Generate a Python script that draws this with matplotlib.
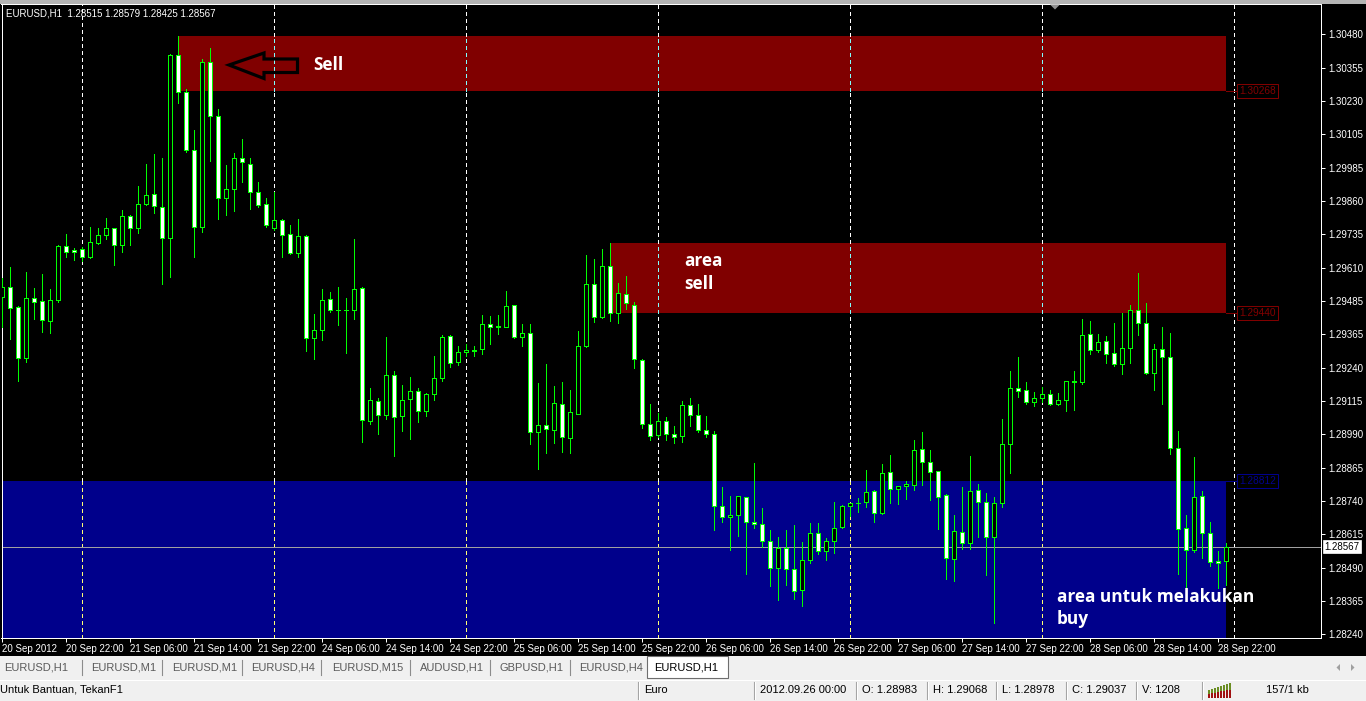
import matplotlib
matplotlib.use('Agg')
import matplotlib.pyplot as plt
from matplotlib.patches import Rectangle, Polygon
import numpy as np

plt.rcParams['font.family'] = ['Liberation Sans', 'DejaVu Sans']

# ---------------- data ----------------
symbol = 'EURUSD,H1'
opens = [1.29500, 1.29538, 1.29461, 1.29270, 1.29494, 1.29483, 1.29408, 1.29487, 1.29688, 1.29674,
         1.29677, 1.29647, 1.29702, 1.29730, 1.29756, 1.29692, 1.29800, 1.29756, 1.29845, 1.29883,
         1.29834, 1.29718, 1.30402, 1.30263, 1.30047, 1.29762, 1.30375, 1.30176, 1.29868, 1.29904,
         1.30017, 1.29997, 1.29890, 1.29845, 1.29756, 1.29786, 1.29733, 1.29662, 1.29726, 1.29345,
         1.29375, 1.29491, 1.29451, 1.29451, 1.29450, 1.29532, 1.29035, 1.29110, 1.29058, 1.29207,
         1.29054, 1.29117, 1.29147, 1.29073, 1.29136, 1.29196, 1.29353, 1.29255, 1.29293, 1.29300,
         1.29304, 1.29397, 1.29390, 1.29386, 1.29468, 1.29349, 1.29364, 1.28994, 1.29020, 1.29002,
         1.29099, 1.28972, 1.29064, 1.29317, 1.29547, 1.29426, 1.29614, 1.29438, 1.29509, 1.29468,
         1.29263, 1.29024, 1.28983, 1.29035, 1.28987, 1.28979, 1.29095, 1.29058, 1.29002, 1.28988,
         1.28718, 1.28677, 1.28684, 1.28751, 1.28658, 1.28651, 1.28587, 1.28486, 1.28561, 1.28483,
         1.28404, 1.28516, 1.28617, 1.28550, 1.28587, 1.28639, 1.28718, 1.28731, 1.28733, 1.28774,
         1.28692, 1.28845, 1.28781, 1.28793, 1.28796, 1.28931, 1.28882, 1.28849, 1.28759, 1.28520,
         1.28621, 1.28580, 1.28778, 1.28733, 1.28602, 1.28729, 1.28949, 1.29158, 1.29151, 1.29106,
         1.29121, 1.29136, 1.29099, 1.29114, 1.29181, 1.29181, 1.29360, 1.29300, 1.29334, 1.29289,
         1.29248, 1.29308, 1.29450, 1.29401, 1.29214, 1.29304, 1.29274, 1.28934, 1.28636, 1.28554,
         1.28755, 1.28617, 1.28512, 1.28515]
highs = [1.29570, 1.29611, 1.29465, 1.29591, 1.29532, 1.29585, 1.29528, 1.29692, 1.29733, 1.29681,
         1.29685, 1.29759, 1.29756, 1.29793, 1.29757, 1.29823, 1.29804, 1.29912, 1.29995, 1.30032,
         1.30017, 1.30406, 1.30474, 1.30275, 1.30123, 1.30387, 1.30428, 1.30200, 1.29991, 1.30036,
         1.30089, 1.30017, 1.29927, 1.29868, 1.29891, 1.29789, 1.29767, 1.29790, 1.29731, 1.29436,
         1.29528, 1.29517, 1.29535, 1.29494, 1.29715, 1.29535, 1.29158, 1.29121, 1.29349, 1.29222,
         1.29170, 1.29199, 1.29158, 1.29140, 1.29278, 1.29356, 1.29356, 1.29315, 1.29323, 1.29315,
         1.29431, 1.29427, 1.29431, 1.29521, 1.29469, 1.29397, 1.29397, 1.29177, 1.29248, 1.29166,
         1.29181, 1.29151, 1.29371, 1.29656, 1.29640, 1.29678, 1.29701, 1.29550, 1.29576, 1.29479,
         1.29267, 1.29099, 1.29068, 1.29050, 1.29017, 1.29110, 1.29121, 1.29099, 1.29054, 1.28999,
         1.28790, 1.28756, 1.28755, 1.28752, 1.28880, 1.28710, 1.28628, 1.28602, 1.28628, 1.28647,
         1.28583, 1.28654, 1.28654, 1.28598, 1.28733, 1.28722, 1.28729, 1.28748, 1.28852, 1.28778,
         1.28875, 1.28908, 1.28793, 1.28811, 1.28964, 1.28994, 1.28927, 1.28849, 1.28763, 1.28684,
         1.28789, 1.28905, 1.28800, 1.28766, 1.28751, 1.29043, 1.29222, 1.29274, 1.29181, 1.29143,
         1.29162, 1.29151, 1.29140, 1.29185, 1.29222, 1.29416, 1.29408, 1.29360, 1.29353, 1.29401,
         1.29438, 1.29468, 1.29589, 1.29476, 1.29323, 1.29386, 1.29364, 1.28998, 1.28684, 1.28901,
         1.28774, 1.28658, 1.28550, 1.28579]
lows = [1.29388, 1.29344, 1.29187, 1.29258, 1.29417, 1.29370, 1.29366, 1.29479, 1.29647, 1.29638,
        1.29635, 1.29645, 1.29697, 1.29715, 1.29620, 1.29667, 1.29694, 1.29739, 1.29841, 1.29814,
        1.29549, 1.29575, 1.30222, 1.30041, 1.29650, 1.29743, 1.30008, 1.29790, 1.29805, 1.29821,
        1.29930, 1.29827, 1.29836, 1.29759, 1.29749, 1.29650, 1.29658, 1.29647, 1.29299, 1.29267,
        1.29338, 1.29442, 1.29394, 1.29289, 1.29416, 1.28959, 1.29024, 1.28987, 1.29043, 1.28905,
        1.28998, 1.28968, 1.29031, 1.29054, 1.29114, 1.29185, 1.29237, 1.29244, 1.29278, 1.29278,
        1.29285, 1.29323, 1.29360, 1.29386, 1.29345, 1.29315, 1.28949, 1.28856, 1.28916, 1.28953,
        1.28919, 1.28916, 1.29064, 1.29314, 1.29407, 1.29422, 1.29411, 1.29403, 1.29453, 1.29233,
        1.29010, 1.28965, 1.28978, 1.28964, 1.28953, 1.28957, 1.29017, 1.28994, 1.28975, 1.28631,
        1.28660, 1.28556, 1.28608, 1.28466, 1.28638, 1.28565, 1.28421, 1.28369, 1.28425, 1.28373,
        1.28347, 1.28506, 1.28539, 1.28516, 1.28542, 1.28637, 1.28682, 1.28695, 1.28714, 1.28658,
        1.28688, 1.28729, 1.28725, 1.28744, 1.28778, 1.28796, 1.28740, 1.28632, 1.28448, 1.28440,
        1.28560, 1.28560, 1.28604, 1.28462, 1.28281, 1.28714, 1.28843, 1.29127, 1.29099, 1.29091,
        1.29106, 1.29095, 1.29095, 1.29073, 1.29076, 1.29173, 1.29285, 1.29293, 1.29252, 1.29240,
        1.29211, 1.29252, 1.29356, 1.29210, 1.29151, 1.29099, 1.28912, 1.28464, 1.28405, 1.28546,
        1.28524, 1.28494, 1.28412, 1.28425]
closes = [1.29538, 1.29457, 1.29270, 1.29494, 1.29479, 1.29412, 1.29487, 1.29690, 1.29666, 1.29666,
          1.29647, 1.29703, 1.29730, 1.29756, 1.29692, 1.29800, 1.29756, 1.29845, 1.29879, 1.29838,
          1.29718, 1.30402, 1.30263, 1.30047, 1.29762, 1.30375, 1.30176, 1.29868, 1.29904, 1.30017,
          1.30002, 1.29890, 1.29842, 1.29767, 1.29786, 1.29730, 1.29662, 1.29726, 1.29345, 1.29375,
          1.29487, 1.29450, 1.29449, 1.29449, 1.29528, 1.29039, 1.29114, 1.29058, 1.29207, 1.29050,
          1.29114, 1.29147, 1.29073, 1.29136, 1.29196, 1.29349, 1.29252, 1.29293, 1.29300, 1.29299,
          1.29397, 1.29386, 1.29389, 1.29465, 1.29349, 1.29364, 1.28994, 1.29020, 1.29005, 1.29102,
          1.28975, 1.29069, 1.29315, 1.29547, 1.29423, 1.29614, 1.29438, 1.29513, 1.29476, 1.29267,
          1.29024, 1.28979, 1.29037, 1.28987, 1.28975, 1.29095, 1.29058, 1.29002, 1.28987, 1.28718,
          1.28677, 1.28684, 1.28755, 1.28658, 1.28651, 1.28587, 1.28486, 1.28561, 1.28483, 1.28400,
          1.28516, 1.28617, 1.28550, 1.28587, 1.28636, 1.28718, 1.28729, 1.28730, 1.28770, 1.28692,
          1.28841, 1.28781, 1.28793, 1.28800, 1.28927, 1.28882, 1.28845, 1.28751, 1.28524, 1.28625,
          1.28580, 1.28774, 1.28733, 1.28604, 1.28729, 1.28949, 1.29158, 1.29147, 1.29106, 1.29121,
          1.29136, 1.29099, 1.29114, 1.29185, 1.29185, 1.29356, 1.29300, 1.29330, 1.29285, 1.29248,
          1.29308, 1.29450, 1.29401, 1.29214, 1.29304, 1.29274, 1.28934, 1.28632, 1.28554, 1.28751,
          1.28617, 1.28509, 1.28505, 1.28567]

time_labels = ['20 Sep 2012', '20 Sep 22:00', '21 Sep 06:00', '21 Sep 14:00', '21 Sep 22:00',
               '24 Sep 06:00', '24 Sep 14:00', '24 Sep 22:00', '25 Sep 06:00', '25 Sep 14:00',
               '25 Sep 22:00', '26 Sep 06:00', '26 Sep 14:00', '26 Sep 22:00', '27 Sep 06:00',
               '27 Sep 14:00', '27 Sep 22:00', '28 Sep 06:00', '28 Sep 14:00', '28 Sep 22:00']
bars_per_label = 8
separator_bars = [10, 34, 58, 82, 106, 130, 154]   # midnight (day) separators

price_tick_labels = ['1.30480', '1.30355', '1.30230', '1.30105', '1.29985', '1.29860', '1.29735',
                     '1.29610', '1.29485', '1.29365', '1.29240', '1.29115', '1.28990', '1.28865',
                     '1.28740', '1.28615', '1.28490', '1.28365', '1.28240']
price_tick_top, price_tick_bottom = 1.30480, 1.28240
current_price = 1.28567

# rectangles: start bar, end bar, low, high, colour, xor colour, label price
zone_starts = [22, 76, -1]
zone_ends = [153, 153, 153]
zone_lows = [1.30268, 1.29440, 1.28200]
zone_highs = [1.30475, 1.29701, 1.28812]
zone_colors = ['#800000', '#800000', '#00008b']
zone_xor = ['#7fffff', '#7fffff', '#ffff74']
zone_label_prices = [1.30268, 1.29440, 1.28812]

tabs = ['EURUSD,H1', 'EURUSD,M1', 'EURUSD,M1', 'EURUSD,H4', 'EURUSD,M15',
        'AUDUSD,H1', 'GBPUSD,H1', 'EURUSD,H4', 'EURUSD,H1']
status_bar = 82  # bar shown in status line

# ---------------- figure ----------------
W, H = 1366, 701
PX = 0.72  # one pixel in points
fig = plt.figure(figsize=(W / 100, H / 100), dpi=100)
fig.patch.set_facecolor('#f0f0f0')

bg = fig.add_axes([0, 0, 1, 1], zorder=0)
bg.set_xlim(0, W); bg.set_ylim(H, 0); bg.axis('off')
bg.add_patch(Rectangle((0, 0), W, 4, color='#b4b4b4', lw=0))
bg.add_patch(Rectangle((0, 4), W, 652, color='black', lw=0))

L, R, T, B = 1.5, 1321, 4, 638
ax = fig.add_axes([L / W, 1 - B / H, (R - L) / W, (B - T) / H], zorder=1)
ax.set_facecolor('black')
px_per_bar = 8.0
x0 = 2.3
ax.set_xlim((L - x0) / px_per_bar, (R - x0) / px_per_bar)
ppu = 600 / (price_tick_top - price_tick_bottom)  # pixels per price unit
ax.set_ylim(price_tick_bottom - (B - 634.3) / ppu, price_tick_top + (34.3 - T) / ppu)
for s in ax.spines.values():
    s.set_color('white'); s.set_linewidth(PX)

# zones
for s0, s1, lo, hi, col in zip(zone_starts, zone_ends, zone_lows, zone_highs, zone_colors):
    ax.add_patch(Rectangle((s0, lo), s1 - s0, hi - lo, facecolor=col, edgecolor='none', zorder=1))

# separators (xor-coloured inside zones)
ylo, yhi = ax.get_ylim()
for sb in separator_bars:
    cuts = [ylo, yhi]
    for s0, s1, lo, hi in zip(zone_starts, zone_ends, zone_lows, zone_highs):
        if s0 <= sb <= s1:
            cuts += [lo, hi]
    cuts = sorted(set(min(max(v, ylo), yhi) for v in cuts))
    for a, b in zip(cuts[:-1], cuts[1:]):
        mid = (a + b) / 2
        colr = 'white'
        for s0, s1, lo, hi, xc in zip(zone_starts, zone_ends, zone_lows, zone_highs, zone_xor):
            if s0 <= sb <= s1 and lo <= mid <= hi:
                colr = xc
        ax.plot([sb, sb], [a, b], color=colr, lw=PX, ls=(0, (3, 3)), zorder=2,
                antialiased=False)

# current price line
ax.axhline(current_price, color='#a0a0a0', lw=PX, zorder=2)

# candles
o = np.array(opens); c = np.array(closes); h = np.array(highs); l = np.array(lows)
idx = np.arange(len(o))
bull = c >= o
ax.vlines(idx, l, h, color='#00ff00', lw=PX, zorder=3, antialiased=False)
ax.bar(idx, np.abs(c - o), bottom=np.minimum(o, c), width=0.5,
       color=['black' if b else 'white' for b in bull], edgecolor='#00ff00',
       linewidth=PX, zorder=4, antialiased=False)

# zone price labels
for p, col in zip(zone_label_prices, zone_colors):
    ax.plot([153, 154.4], [p, p], color=col, lw=PX, zorder=5, clip_on=False)
    ax.text(154.65, p, f'{p:.5f}', color=col, fontsize=7.3, ha='left', va='center', zorder=6,
            bbox=dict(boxstyle='square,pad=0.2', fc='black', ec=col, lw=PX))

# arrow and annotations
def py(ypix):
    return price_tick_top - (ypix - 34.3) / ppu
def bx(xpix):
    return (xpix - x0) / px_per_bar
arrow = Polygon([(bx(229), py(65)), (bx(264), py(53)), (bx(264), py(59)), (bx(297.5), py(59)),
                 (bx(297.5), py(72.5)), (bx(264), py(72.5)), (bx(264), py(78.5))],
                closed=True, facecolor='none', edgecolor='black', lw=2.3, joinstyle='miter', zorder=6)
ax.add_patch(arrow)
tfont = dict(family=['Open Sans', 'DejaVu Sans'], weight='bold', fontsize=12.4, color='white', zorder=7)
ax.text(bx(313), py(69.5), 'Sell', va='baseline', ha='left', **tfont)
ax.text(bx(684), py(266), 'area', va='baseline', ha='left', **tfont)
ax.text(bx(684), py(289), 'sell', va='baseline', ha='left', **tfont)
ax.text(bx(1057), py(602), 'area untuk melakukan', va='baseline', ha='left', **tfont)
ax.text(bx(1057), py(624), 'buy', va='baseline', ha='left', **tfont)

# axes ticks
yt = price_tick_top - np.arange(len(price_tick_labels)) * (price_tick_top - price_tick_bottom) / (len(price_tick_labels) - 1)
ax.yaxis.tick_right()
ax.set_yticks(yt)
ax.set_yticklabels(price_tick_labels)
ax.set_xticks(np.arange(len(time_labels)) * bars_per_label)
ax.set_xticklabels(time_labels)
for t in ax.get_xticklabels():
    t.set_ha('left')
ax.tick_params(axis='both', colors='white', length=3, width=PX, labelsize=7)
ax.tick_params(axis='y', pad=2)
ax.tick_params(axis='x', pad=1)

ax.annotate(f'{current_price:.5f}', xy=(1, current_price), xycoords=('axes fraction', 'data'),
            xytext=(2.2, 0), textcoords='offset points', ha='left', va='center', fontsize=7,
            color='black', annotation_clip=False, zorder=8,
            bbox=dict(boxstyle='square,pad=0.15', fc='white', ec='white', lw=0.5))

# overlay: title and shift marker
ov = fig.add_axes([0, 0, 1, 1], zorder=10)
ov.set_xlim(0, W); ov.set_ylim(H, 0); ov.axis('off'); ov.patch.set_alpha(0)
title = f'{symbol}  {opens[-1]:.5f} {highs[-1]:.5f} {lows[-1]:.5f} {closes[-1]:.5f}'
ov.text(6, 13.5, title, color='white', fontsize=7, ha='left', va='center')
ov.add_patch(Polygon([(1050, 4.5), (1060, 4.5), (1055, 9.5)], closed=True, color='#909090', lw=0))

# ---------------- tab bar ----------------
tab_x = [4.5, 91.5, 172, 251, 332, 420, 499, 579, 654]
tab_seps = [82, 162, 241.5, 321, 410, 490, 570]
bg.add_patch(Rectangle((647, 656), 81, 22, facecolor='white', edgecolor='#6e6e6e', lw=0.8))
for i, (name, x) in enumerate(zip(tabs, tab_x)):
    active = i == len(tabs) - 1
    bg.text(x, 667.5, name, fontsize=8, color='black' if active else '#5a5a5a',
            ha='left', va='center')
for x in tab_seps:
    bg.plot([x, x], [660, 675], color='#8c8c8c', lw=0.8)
bg.add_patch(Polygon([(1340, 664), (1340, 671), (1336.5, 667.5)], closed=True, color='#a0a0a0', lw=0))
bg.add_patch(Polygon([(1351, 664), (1351, 671), (1354.5, 667.5)], closed=True, color='#a0a0a0', lw=0))

# ---------------- status bar ----------------
bg.plot([0, W], [679.5, 679.5], color='#ffffff', lw=0.8)
status_items = [(0, 'Untuk Bantuan, TekanF1'), (644, 'Euro'),
                (760, '2012.09.26 00:00'),
                (861.5, f'O: {opens[status_bar]:.5f}'), (933, f'H: {highs[status_bar]:.5f}'),
                (1002, f'L: {lows[status_bar]:.5f}'), (1071.5, f'C: {closes[status_bar]:.5f}'),
                (1141.5, 'V: 1208'), (1266, '157/1 kb')]
for x, s in status_items:
    bg.text(x, 690, s, fontsize=8, color='black', ha='left', va='center')
for x in [638, 753.5, 856, 927, 996, 1066, 1136, 1202]:
    bg.plot([x, x], [682, 699], color='#a0a0a0', lw=0.8)
    bg.plot([x + 1, x + 1], [682, 699], color='white', lw=0.8)
for k in range(8):
    xk = 1208 + k * 3
    hk = 8 + k
    bg.add_patch(Rectangle((xk, 698 - hk), 1.6, hk * 0.45, color='#6b8e23', lw=0))
    bg.add_patch(Rectangle((xk, 698 - hk * 0.55), 1.6, hk * 0.55, color='#a01010', lw=0))

fig.savefig('out.png', dpi=100, facecolor=fig.get_facecolor())
